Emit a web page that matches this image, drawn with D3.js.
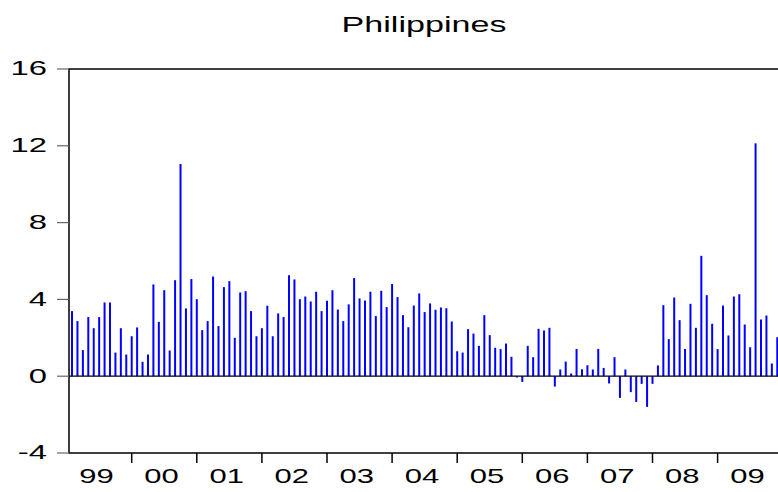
<!DOCTYPE html>
<html>
<head>
<meta charset="utf-8">
<script src="https://cdn.jsdelivr.net/npm/d3@7"></script>
<style>
  body { margin: 0; background: #fff; }
  text { font-family: "Liberation Sans", Arial, sans-serif; fill: #000; }
</style>
</head>
<body>
<div id="chart"></div>
<script>
var svgWidth = 778;
var svgHeight = 492;

// monthly values, first observation 1999M2, last 2009M12
var startMonth = 1; // months after 1999M1
var values = [
  3.39, 2.87, 1.36, 3.08, 2.50, 3.08, 3.84, 3.84, 1.23, 2.50, 1.13,
  2.08, 2.54, 0.75, 1.13, 4.78, 2.83, 4.48, 1.34, 5.00, 11.05, 3.53, 5.06,
  4.01, 2.40, 2.87, 5.19, 2.61, 4.64, 4.95, 2.00, 4.36, 4.43, 3.39, 2.08,
  2.50, 3.67, 2.08, 3.27, 3.08, 5.26, 5.04, 4.01, 4.15, 3.89, 4.40, 3.39,
  3.93, 4.48, 3.47, 2.87, 3.74, 5.11, 4.05, 3.94, 4.40, 3.13, 4.45, 3.60,
  4.80, 4.12, 3.18, 2.55, 3.68, 4.31, 3.34, 3.79, 3.46, 3.58, 3.54, 2.85,
  1.30, 1.23, 2.45, 2.22, 1.58, 3.18, 2.14, 1.48, 1.41, 1.70, 1.01, -0.07,
  -0.30, 1.58, 0.99, 2.47, 2.38, 2.52, -0.54, 0.35, 0.76, 0.14, 1.42, 0.36,
  0.57, 0.35, 1.42, 0.43, -0.38, 0.99, -1.13, 0.35, -0.83, -1.34, -0.40,
  -1.60, -0.40, 0.56, 3.70, 1.93, 4.10, 2.92, 1.42, 3.77, 2.52, 6.27, 4.22,
  2.73, 1.41, 3.68, 2.12, 4.15, 4.27, 2.69, 1.51, 12.13, 2.95, 3.16, 0.66,
  2.03
];
var yearLabels = ["99", "00", "01", "02", "03", "04", "05", "06", "07", "08", "09"];
var yTicks = [-4, 0, 4, 8, 12, 16];

var plotLeft = 69, plotTop = 69, plotBottom = 453;
var stretch = 1.55; // the picture is wider than tall text would be

var svg = d3.select("#chart")
  .append("svg")
  .attr("width", svgWidth)
  .attr("height", svgHeight);

// x in months since 1999M1
var xScale = d3.scaleLinear()
  .domain([0, 132])
  .range([66.6, 782.7]);

var yScale = d3.scaleLinear()
  .domain([-4, 16])
  .range([plotBottom, plotTop]);

// spikes
svg.append("g")
  .selectAll("line")
  .data(values)
  .join("line")
  .attr("x1", (d, i) => xScale(startMonth + i))
  .attr("x2", (d, i) => xScale(startMonth + i))
  .attr("y1", yScale(0))
  .attr("y2", d => yScale(d))
  .attr("stroke", "#0000ff")
  .attr("stroke-width", 2);

// zero line
svg.append("line")
  .attr("x1", plotLeft).attr("x2", svgWidth)
  .attr("y1", yScale(0)).attr("y2", yScale(0))
  .attr("stroke", "#000").attr("stroke-width", 1.2);

// frame
svg.append("path")
  .attr("fill", "none")
  .attr("stroke", "#000")
  .attr("stroke-width", 1.5)
  .attr("d", "M" + svgWidth + "," + plotTop + "H" + plotLeft + "V" + plotBottom + "H" + svgWidth);

// y ticks and labels
var yAxis = svg.append("g");
yAxis.selectAll("line")
  .data(yTicks)
  .join("line")
  .attr("x1", 57).attr("x2", plotLeft)
  .attr("y1", d => yScale(d)).attr("y2", d => yScale(d))
  .attr("stroke", "#666").attr("stroke-width", 1.2);
yAxis.selectAll("text")
  .data(yTicks)
  .join("text")
  .attr("text-anchor", "end")
  .attr("dy", "0.36em")
  .attr("font-size", 20.5)
  .attr("transform", d => "translate(47," + (yScale(d) - 1) + ") scale(1.6,1)")
  .text(d => d);

// x ticks at year starts and year labels
var xAxis = svg.append("g");
xAxis.selectAll("line")
  .data(yearLabels.slice(1))
  .join("line")
  .attr("x1", (d, i) => xScale((i + 1) * 12))
  .attr("x2", (d, i) => xScale((i + 1) * 12))
  .attr("y1", plotBottom).attr("y2", plotBottom + 10)
  .attr("stroke", "#000").attr("stroke-width", 1.5);
xAxis.selectAll("text")
  .data(yearLabels)
  .join("text")
  .attr("text-anchor", "middle")
  .attr("font-size", 20)
  .attr("transform", (d, i) => "translate(" + xScale(i * 12 + 5.5) + ",483.3) scale(" + stretch + ",1)")
  .text(d => d);

// title
svg.append("text")
  .attr("text-anchor", "middle")
  .attr("font-size", 22)
  .attr("transform", "translate(424,32.3) scale(" + stretch + ",1)")
  .text("Philippines");
</script>
</body>
</html>
